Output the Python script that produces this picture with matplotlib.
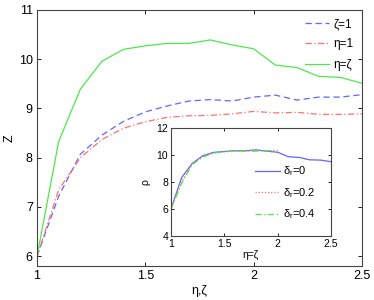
import numpy as np
import matplotlib
matplotlib.use('Agg')
import matplotlib.pyplot as plt

plt.rcParams['font.family'] = ['Liberation Sans', 'DejaVu Sans']
plt.rcParams['mathtext.fontset'] = 'custom'
plt.rcParams['mathtext.rm'] = 'Liberation Sans'
plt.rcParams['xtick.direction'] = 'in'
plt.rcParams['ytick.direction'] = 'in'
plt.rcParams['xtick.top'] = True
plt.rcParams['ytick.right'] = True

# main plot data
x = [1.0, 1.1, 1.2, 1.3, 1.4, 1.5, 1.6, 1.7, 1.8, 1.9, 2.0, 2.1, 2.2, 2.3, 2.4, 2.5]
z_zeta1 = [6.0, 7.22, 8.07, 8.46, 8.74, 8.93, 9.05, 9.15, 9.18, 9.15, 9.23, 9.27, 9.17, 9.23, 9.23, 9.28]
z_eta1 = [6.0, 7.35, 8.0, 8.37, 8.6, 8.73, 8.82, 8.85, 8.86, 8.89, 8.94, 8.91, 8.92, 8.88, 8.88, 8.89]
z_eq = [6.0, 8.33, 9.39, 9.96, 10.2, 10.27, 10.32, 10.32, 10.39, 10.29, 10.21, 9.88, 9.83, 9.65, 9.63, 9.51]

# inset data
x_in = [1.0, 1.1, 1.2, 1.3, 1.4, 1.5, 1.6, 1.7, 1.8, 1.9, 2.0]
rho_d0 = z_eq
rho_d02 = [6.0, 8.05, 9.35, 9.9, 10.15, 10.25, 10.3, 10.3, 10.33, 10.3, 10.3]
rho_d04 = [6.0, 7.9, 9.3, 9.85, 10.15, 10.25, 10.3, 10.3, 10.3, 10.32, 10.38]

blue = '#6464ff'
red = '#ff7070'
green = '#4ce84c'
spine_col = '#444444'

fig = plt.figure(figsize=(3.74, 3.0), dpi=100)
ax = fig.add_axes([0.099, 0.113, 0.869, 0.854])
ax.plot(x, z_zeta1, color=blue, ls=(0, (5, 3)), lw=0.9, label='ζ=1')
ax.plot(x, z_eta1, color=red, ls=(0, (5, 2, 1, 2)), lw=0.9, label='η=1')
ax.plot(x, z_eq, color=green, ls='-', lw=0.9, label='η=ζ')
ax.set_xlim(1, 2.5)
ax.set_ylim(5.8, 11)
ax.set_xticks([1, 1.5, 2, 2.5])
ax.set_xticklabels(['1', '1.5', '2', '2.5'])
ax.set_yticks([6, 7, 8, 9, 10, 11])
ax.tick_params(labelsize=9, length=3, width=0.6, colors='black', pad=3)
for s in ax.spines.values():
    s.set_color(spine_col)
    s.set_linewidth(0.8)
ax.set_xlabel('η,ζ', fontsize=9, labelpad=2)
ax.set_ylabel('Z', fontsize=9, labelpad=2)
ax.legend(loc='upper right', frameon=False, fontsize=8.5, handlelength=2.0,
          labelspacing=0.7, borderaxespad=0.3, handletextpad=0.4)

ins = fig.add_axes([0.457, 0.213, 0.428, 0.36])
ins.plot(x, rho_d0, color=blue, ls='-', lw=0.9, label=r'δ$_{\rm r}$=0')
ins.plot(x_in, rho_d02, color=red, ls=(0, (1, 1.5)), lw=0.9, label=r'δ$_{\rm r}$=0.2')
ins.plot(x_in, rho_d04, color=green, ls=(0, (5, 2, 1, 2)), lw=0.9, label=r'δ$_{\rm r}$=0.4')
ins.set_xlim(1, 2.5)
ins.set_ylim(4, 12)
ins.set_xticks([1, 1.5, 2, 2.5])
ins.set_xticklabels(['1', '1.5', '2', '2.5'])
ins.set_yticks([4, 6, 8, 10, 12])
ins.tick_params(labelsize=7.5, length=2.5, width=0.6, pad=2)
for s in ins.spines.values():
    s.set_color(spine_col)
    s.set_linewidth(0.8)
ins.set_xlabel('η=ζ', fontsize=7.5, labelpad=1)
ins.set_ylabel('ρ', fontsize=7.5, labelpad=4)
ins.legend(loc='center left', bbox_to_anchor=(0.46, 0.4), frameon=False,
           fontsize=8, handlelength=2.3, labelspacing=0.7, handletextpad=0.3)

fig.savefig('out.png', dpi=100)
